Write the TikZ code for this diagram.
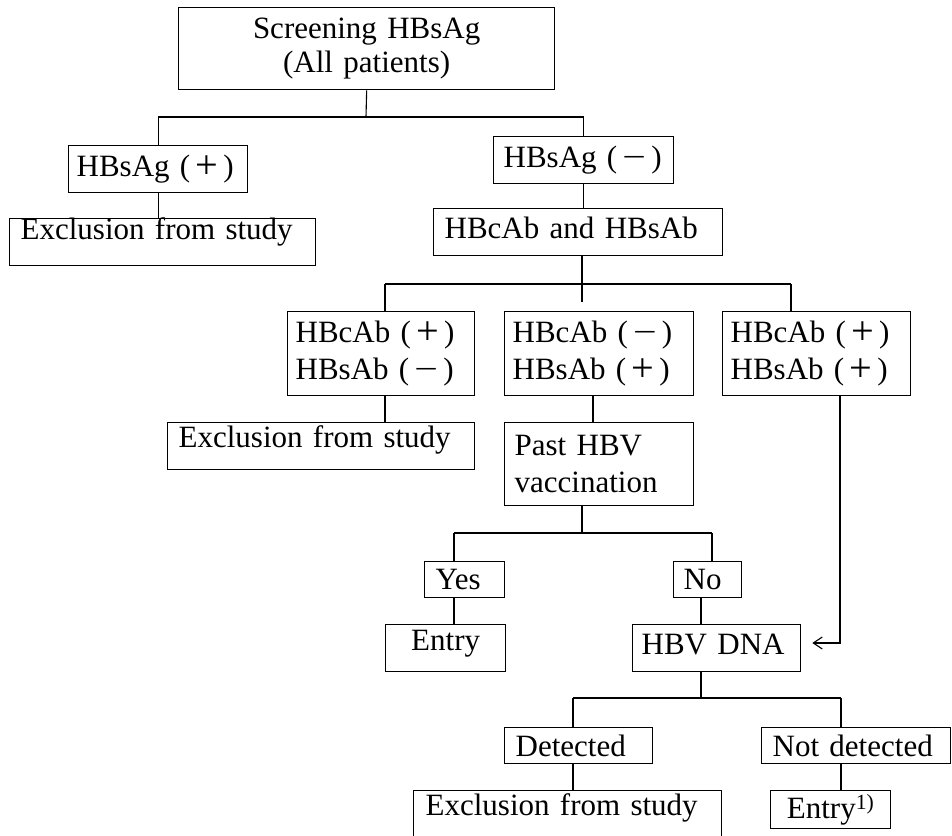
\documentclass[tikz,border=0pt]{standalone}
\usepackage{fontspec}
\usepackage{graphicx}
\setmainfont{Liberation Serif}
\usetikzlibrary{arrows.meta}
\newcommand\upby[2]{\raisebox{#1}[\height][\depth]{#2}}
\newcommand\pl{(\,\raisebox{-0.06em}[0.6em][0pt]{\scalebox{1.3}{+}}\,)}
\newcommand\mi{(\,\scalebox{1.35}[1]{−}\,)}
\begin{document}
\begin{tikzpicture}[x=1pt,y=-1pt,
  bx/.style={draw, line width=1.3pt, inner ysep=0pt, anchor=north west,
    font=\fontsize{31}{37}\selectfont, align=left},
  ln/.style={line width=1.1pt},
  br/.style={line width=1.8pt}]
\useasboundingbox (0,0) rectangle (952,835);
\clip (0,0) rectangle (952,835);

% boxes
\node[bx, align=center, text width=356pt, inner xsep=10pt, minimum height=82pt,
  font=\fontsize{31}{34}\selectfont] (top) at (178,7) {Screening HBsAg\\(All patients)};
\node[bx, text width=163pt, inner xsep=8pt, minimum height=47pt] (pos) at (68,145) {HBsAg \pl};
\node[bx, text width=284pt, inner xsep=11pt, minimum height=47pt] (excl1) at (9,218) {\upby{10pt}{Exclusion from study}};
\node[bx, text width=166pt, inner xsep=7pt, minimum height=47pt] (neg) at (493,136) {\hspace{3pt}HBsAg \mi};
\node[bx, text width=267pt, inner xsep=11pt, minimum height=47pt] (hbcab) at (433,208) {\upby{4pt}{HBcAb and HBsAb}};
\node[bx, text width=171pt, inner xsep=8pt, minimum height=84pt] (c1) at (287,311) {HBcAb \pl\\HBsAb \mi};
\node[bx, text width=173pt, inner xsep=8pt, minimum height=84pt] (c2) at (504,311) {HBcAb \mi\\HBsAb \pl};
\node[bx, text width=172pt, inner xsep=8pt, minimum height=84pt] (c3) at (722,311) {HBcAb \pl\\HBsAb \pl};
\node[bx, text width=285pt, inner xsep=11pt, minimum height=47pt] (excl2) at (167,422) {\upby{6pt}{Exclusion from study}};
\node[bx, text width=169pt, inner xsep=10pt, minimum height=83pt] (past) at (504,422) {Past HBV\\vaccination};
\node[bx, text width=58pt, inner xsep=11pt, minimum height=36pt] (yes) at (424,561) {Yes};
\node[bx, text width=48pt, inner xsep=10pt, minimum height=36pt] (no) at (673,561) {No};
\node[bx, align=center, text width=100pt, inner xsep=10pt, minimum height=47pt] (entry) at (385,624) {\upby{4pt}{Entry}};
\node[bx, text width=150pt, inner xsep=9pt, minimum height=47pt] (dna) at (632,624) {\upby{4pt}{HBV DNA}};
\node[bx, text width=126pt, inner xsep=11pt, minimum height=36pt] (det) at (504,727) {Detected};
\node[bx, text width=167pt, inner xsep=11pt, minimum height=36pt] (notdet) at (761,727) {Not detected};
\node[bx, text width=284pt, inner xsep=12pt, minimum height=47pt] (excl3) at (413,790) {\upby{6pt}{Exclusion from study}};
\node[bx, align=center, text width=100pt, inner xsep=10pt, minimum height=38pt] (entry1) at (770,790) {Entry\textsuperscript{1)}};

% junction points
\coordinate (j1) at (366,117);
\coordinate (j2) at (582,284);
\coordinate (j2s) at (582,302);
\coordinate (j2l) at (385,284);
\coordinate (j2r) at (791,284);
\coordinate (v3) at (593,400);
\coordinate (j3) at (582,533);
\coordinate (j3l) at (454,533);
\coordinate (j3r) at (712,533);
\coordinate (v4) at (701,600);
\coordinate (ar) at (840,643);
\coordinate (art) at ([xshift=11pt]dna.east);
\coordinate (j4) at (701,698);
\coordinate (j4l) at (573,698);
\coordinate (j4r) at (841,698);

% connectors
\draw[ln] (top.south) -- (j1);
\draw[br] (pos.north |- j1) -- (neg.north |- j1);
\draw[ln] (pos.north) -- (pos.north |- j1);
\draw[ln] (neg.north) -- (neg.north |- j1);
\draw[ln] (pos.south) -- (pos.south |- excl1.north);
\draw[ln] (neg.south) -- (neg.south |- hbcab.north);

\draw[ln] (j2 |- hbcab.south) -- (j2s);
\draw[br] (j2l) -- (j2r);
\draw[ln] (j2l) -- (j2l |- c1.north);
\draw[br] (j2r) -- (j2r |- c3.north);
\draw[ln] (j2l |- c1.south) -- (j2l |- excl2.north);
\draw[ln] (v3 |- c2.south) -- (v3 |- past.north);

\draw[ln] (j3 |- past.south) -- (j3);
\draw[br] (j3l) -- (j3r);
\draw[ln] (j3l) -- (j3l |- yes.north);
\draw[ln] (j3r) -- (j3r |- no.north);
\draw[ln] (j3l |- yes.south) -- (j3l |- entry.north);
\draw[ln] (v4 |- no.south) -- (v4 |- dna.north);

\draw[ln, -{Straight Barb[length=9pt,width=12pt]}] (ar |- c3.south) -- (ar) -- (art |- ar);

\draw[br] (j4 |- dna.south) -- (j4);
\draw[br] (j4l) -- (j4r);
\draw[ln] (j4l) -- (j4l |- det.north);
\draw[ln] (j4r) -- (j4r |- notdet.north);
\draw[ln] (j4l |- det.south) -- (j4l |- excl3.north);
\draw[ln] (j4r |- notdet.south) -- (j4r |- entry1.north);
\end{tikzpicture}
\end{document}
